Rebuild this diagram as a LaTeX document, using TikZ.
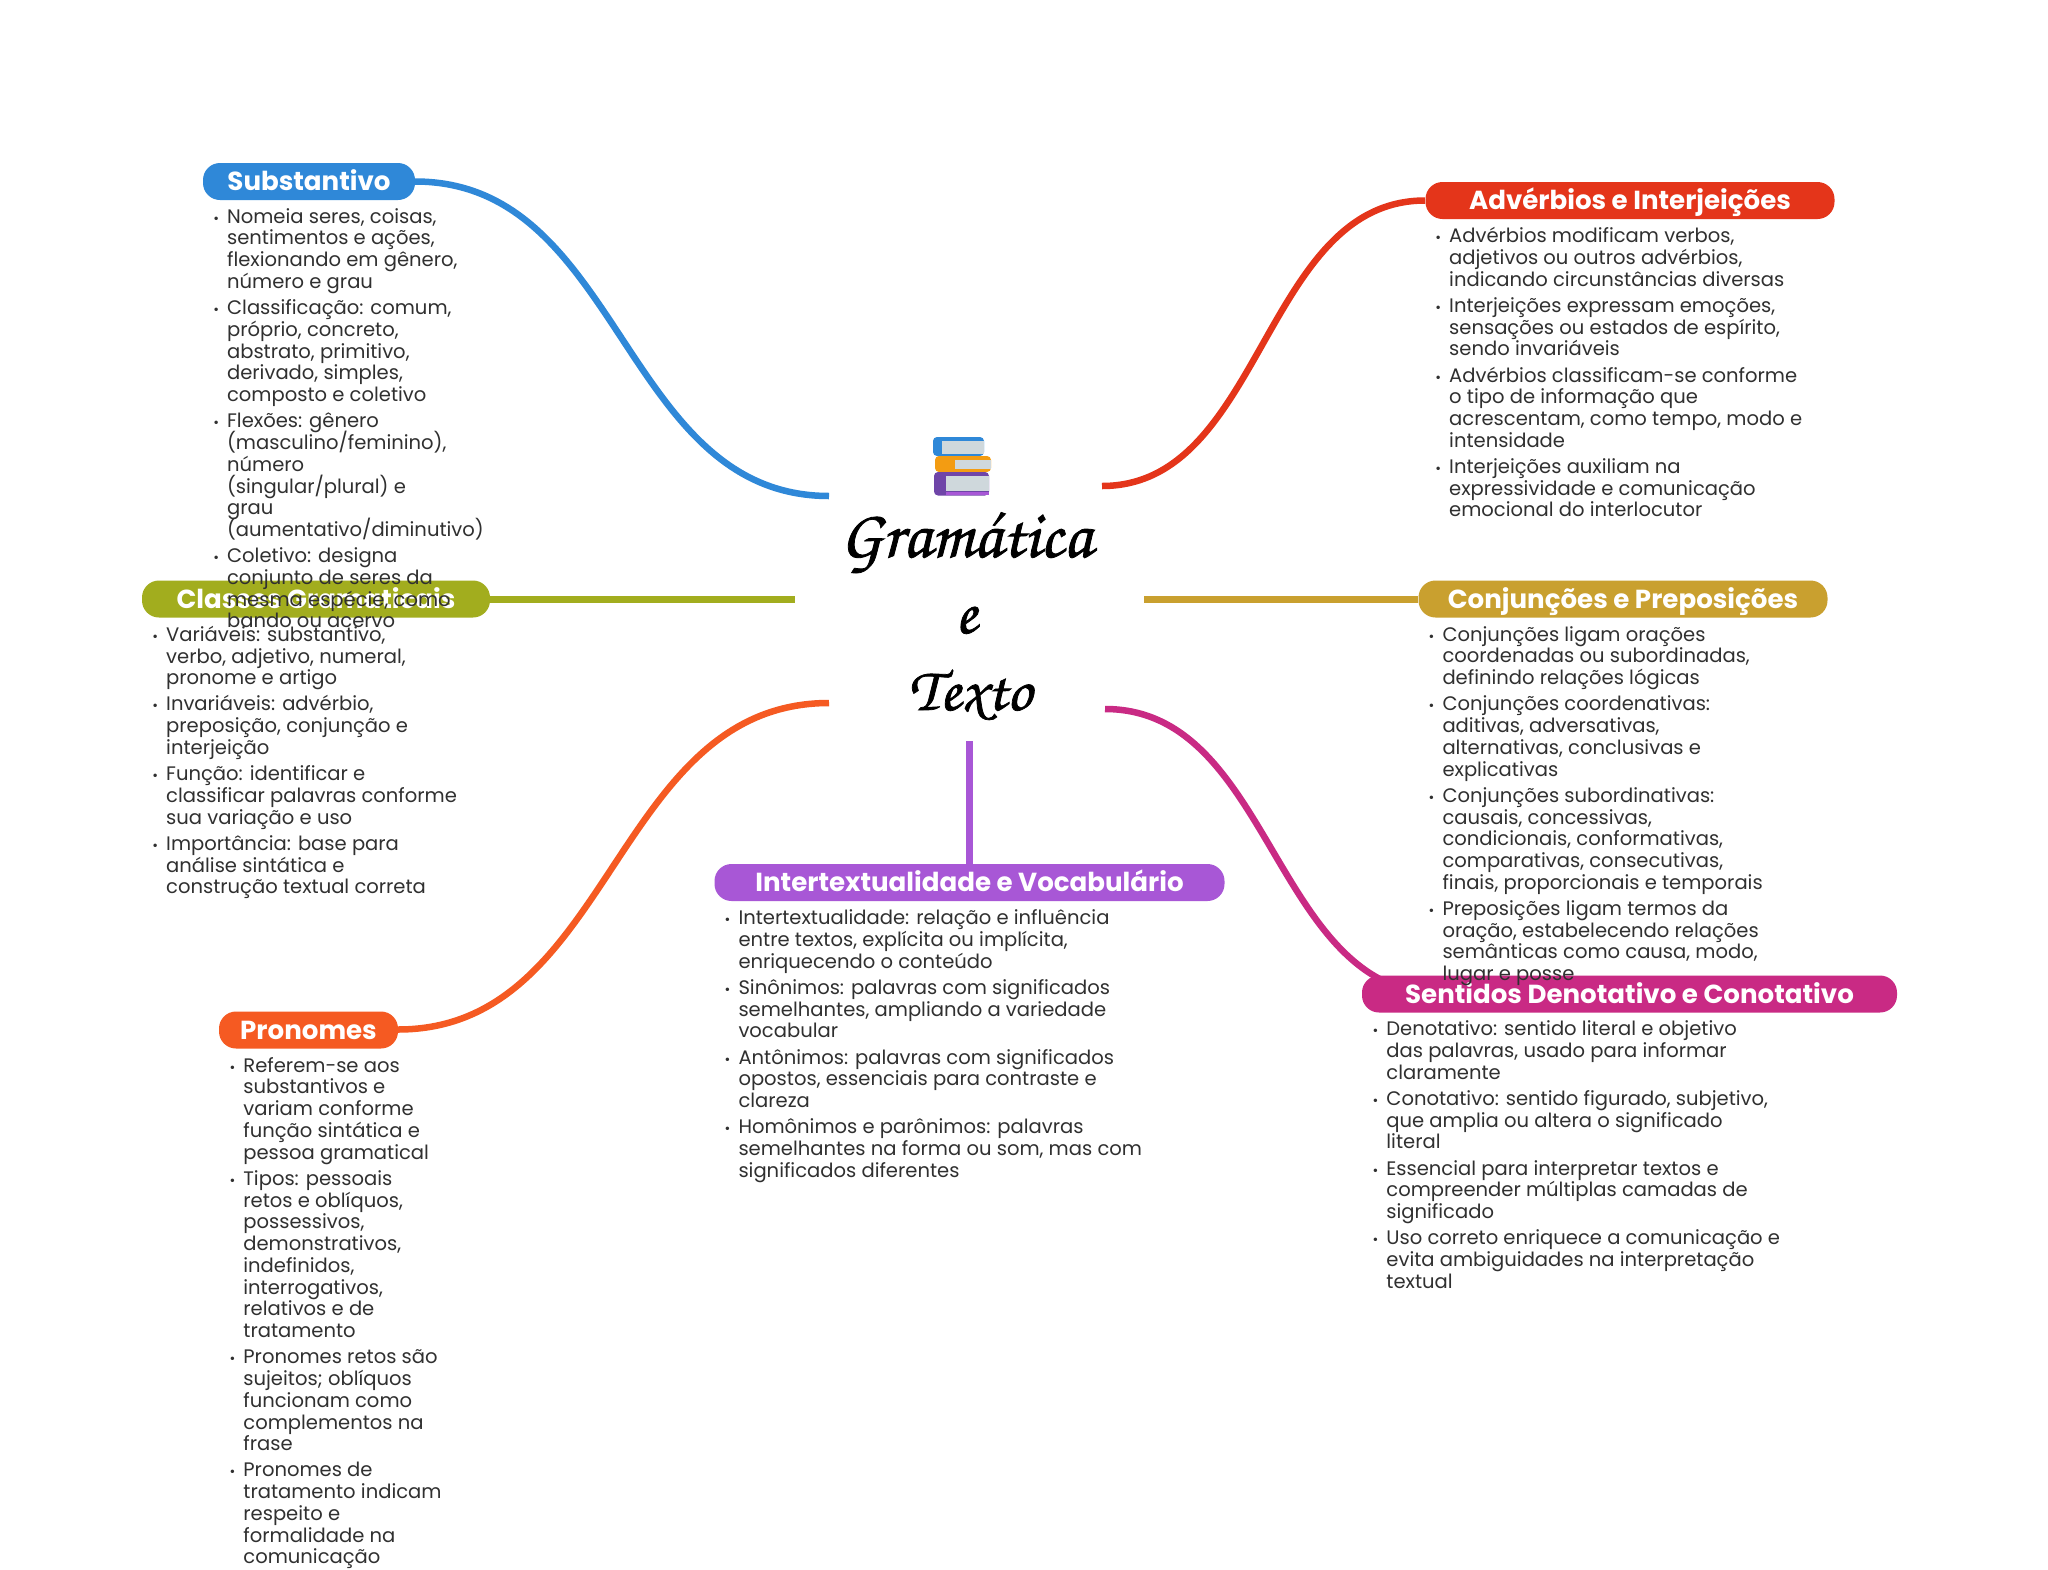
\documentclass[tikz,border=0pt]{standalone}
\usepackage{fontspec}
\setmainfont{Poppins}
\newfontfamily\titlefnt[FakeBold=1.2]{TeX Gyre Chorus}
\definecolor{cblue}{HTML}{2F88D8}
\definecolor{cred}{HTML}{E4351A}
\definecolor{colive}{HTML}{A2AD1E}
\definecolor{cgold}{HTML}{C9A02F}
\definecolor{cpink}{HTML}{C92A84}
\definecolor{cpurple}{HTML}{A857D6}
\definecolor{corange}{HTML}{F55A22}
\definecolor{bodytext}{HTML}{303030}
\definecolor{bookpage}{HTML}{CFD8DC}
\definecolor{bookorange}{HTML}{F39C12}
\definecolor{bookpurple}{HTML}{6F45A8}
\newcommand{\bl}{\strut\makebox[0pt][r]{{\fontsize{14}{14}\selectfont •}\hspace{8pt}}}
\newcommand{\gp}{\\[4.4pt]}
\tikzset{
  pill/.style={fill=#1,rounded corners=17pt,inner sep=0pt,text=white,minimum height=37pt,text height=18pt,text depth=0pt,font=\fontsize{26.1}{30}\selectfont\bfseries,align=center},
  wire/.style={draw=#1,line width=6.5pt},
  body/.style={anchor=north west,inner sep=0pt,align=left,text=bodytext,font=\fontsize{19.55}{21.75}\selectfont,execute at begin node={\lineskiplimit=-100pt\relax}},
  titleline/.style={inner sep=0pt,anchor=base,font=\fontsize{#1}{70}\selectfont\titlefnt,text=black},
}
\begin{document}
\begin{tikzpicture}[x=1pt,y=-1pt]
\useasboundingbox (0,0) rectangle (2048,1569);
\fill[white] (0,0) rectangle (2048,1569);
% connector ends on the centre
\coordinate (cBlue) at (829,496);
\coordinate (cRed) at (1102,486);
\coordinate (cOlive) at (795,599.5);
\coordinate (cGold) at (1144,599.5);
\coordinate (cOrange) at (829,703);
\coordinate (cPink) at (1105,709);
\coordinate (cPurple) at (969.5,741);
% connector ends on the headers
\coordinate (eBlue) at (415,181.5);
\coordinate (eRed) at (1425,200.5);
\coordinate (eOlive) at (490,599.5);
\coordinate (eGold) at (1418,599.5);
\coordinate (eOrange) at (398,1029.5);
\coordinate (ePink) at (1441,994);
\coordinate (ePurple) at (969.5,864);
% connectors
\draw[wire=cblue] (eBlue) .. controls (622,181.5) and (622,496) .. (cBlue);
\draw[wire=cred] (cRed) .. controls (1263,486) and (1263,200.5) .. (eRed);
\draw[wire=colive] (eOlive) -- (cOlive);
\draw[wire=cgold] (cGold) -- (eGold);
\draw[wire=corange] (cOrange) .. controls (613,703) and (613,1029.5) .. (eOrange);
\draw[wire=cpink] (cPink) .. controls (1273,709) and (1273,994) .. (ePink);
\draw[wire=cpurple] (cPurple) -- (ePurple);
% headers
\node[pill=cblue,minimum width=212pt] (sub) at (309,181.5) {Substantivo};
\node[pill=cred,minimum width=409pt] (adv) at (1630,200.5) {Advérbios e Interjeições};
\node[pill=colive,minimum width=348pt] (cla) at (316,599) {Classes Gramaticais};
\node[pill=cgold,minimum width=409pt] (con) at (1623,599) {Conjunções e Preposições};
\node[pill=cpurple,minimum width=510pt] (int) at (969.5,882.5) {Intertextualidade e Vocabulário};
\node[pill=corange,minimum width=179pt] (pro) at (308.5,1030) {Pronomes};
\node[pill=cpink,minimum width=535pt] (sen) at (1629.5,994) {Sentidos Denotativo e Conotativo};
% centre
\fill[cblue,rounded corners=4pt] (933,437) rectangle (984,456);
\fill[bookpage] (942,441) rectangle (984,454);
\fill[bookorange,rounded corners=4pt] (935,456) rectangle (991,472);
\fill[bookpage] (955,460) rectangle (991,469);
\fill[bookpurple,rounded corners=4pt] (934,472) rectangle (989,495.5);
\fill[bookpage] (946,476) rectangle (989,491);
\fill[cpurple] (946,492) rectangle (989,495);
\node[titleline=68] (t1) at (966,557) {Gramática};
\node[titleline=64] (t2) at (966,633) {e};
\node[titleline=62] (t3) at (970,710) {Texto};
% bodies
\node[body] (bSub) at (226.9,207.8) {\bl Nomeia seres, coisas,\\ \strut sentimentos e ações,\\ \strut flexionando em gênero,\\ \strut número e grau\gp
\bl Classificação: comum,\\ \strut próprio, concreto,\\ \strut abstrato, primitivo,\\ \strut derivado, simples,\\ \strut composto e coletivo\gp
\bl Flexões: gênero\\ \strut (masculino/feminino),\\ \strut número\\ \strut (singular/plural) e\\ \strut grau\\ \strut (aumentativo/diminutivo)\gp
\bl Coletivo: designa\\ \strut conjunto de seres da\\ \strut mesma espécie, como\\ \strut bando ou acervo};
\node[body] (bAdv) at (1449,227.3) {\bl Advérbios modificam verbos,\\ \strut adjetivos ou outros advérbios,\\ \strut indicando circunstâncias diversas\gp
\bl Interjeições expressam emoções,\\ \strut sensações ou estados de espírito,\\ \strut sendo invariáveis\gp
\bl Advérbios classificam-se conforme\\ \strut o tipo de informação que\\ \strut acrescentam, como tempo, modo e\\ \strut intensidade\gp
\bl Interjeições auxiliam na\\ \strut expressividade e comunicação\\ \strut emocional do interlocutor};
\node[body] (bCla) at (166,625.8) {\bl Variáveis: substantivo,\\ \strut verbo, adjetivo, numeral,\\ \strut pronome e artigo\gp
\bl Invariáveis: advérbio,\\ \strut preposição, conjunção e\\ \strut interjeição\gp
\bl Função: identificar e\\ \strut classificar palavras conforme\\ \strut sua variação e uso\gp
\bl Importância: base para\\ \strut análise sintática e\\ \strut construção textual correta};
\node[body] (bCon) at (1442.3,625.8) {\bl Conjunções ligam orações\\ \strut coordenadas ou subordinadas,\\ \strut definindo relações lógicas\gp
\bl Conjunções coordenativas:\\ \strut aditivas, adversativas,\\ \strut alternativas, conclusivas e\\ \strut explicativas\gp
\bl Conjunções subordinativas:\\ \strut causais, concessivas,\\ \strut condicionais, conformativas,\\ \strut comparativas, consecutivas,\\ \strut finais, proporcionais e temporais\gp
\bl Preposições ligam termos da\\ \strut oração, estabelecendo relações\\ \strut semânticas como causa, modo,\\ \strut lugar e posse};
\node[body] (bInt) at (738.3,909.3) {\bl Intertextualidade: relação e influência\\ \strut entre textos, explícita ou implícita,\\ \strut enriquecendo o conteúdo\gp
\bl Sinônimos: palavras com significados\\ \strut semelhantes, ampliando a variedade\\ \strut vocabular\gp
\bl Antônimos: palavras com significados\\ \strut opostos, essenciais para contraste e\\ \strut clareza\gp
\bl Homônimos e parônimos: palavras\\ \strut semelhantes na forma ou som, mas com\\ \strut significados diferentes};
\node[body] (bPro) at (243.2,1056.8) {\bl Referem-se aos\\ \strut substantivos e\\ \strut variam conforme\\ \strut função sintática e\\ \strut pessoa gramatical\gp
\bl Tipos: pessoais\\ \strut retos e oblíquos,\\ \strut possessivos,\\ \strut demonstrativos,\\ \strut indefinidos,\\ \strut interrogativos,\\ \strut relativos e de\\ \strut tratamento\gp
\bl Pronomes retos são\\ \strut sujeitos; oblíquos\\ \strut funcionam como\\ \strut complementos na\\ \strut frase\gp
\bl Pronomes de\\ \strut tratamento indicam\\ \strut respeito e\\ \strut formalidade na\\ \strut comunicação};
\node[body] (bSen) at (1386.2,1020.3) {\bl Denotativo: sentido literal e objetivo\\ \strut das palavras, usado para informar\\ \strut claramente\gp
\bl Conotativo: sentido figurado, subjetivo,\\ \strut que amplia ou altera o significado\\ \strut literal\gp
\bl Essencial para interpretar textos e\\ \strut compreender múltiplas camadas de\\ \strut significado\gp
\bl Uso correto enriquece a comunicação e\\ \strut evita ambiguidades na interpretação\\ \strut textual};
\end{tikzpicture}
\end{document}
